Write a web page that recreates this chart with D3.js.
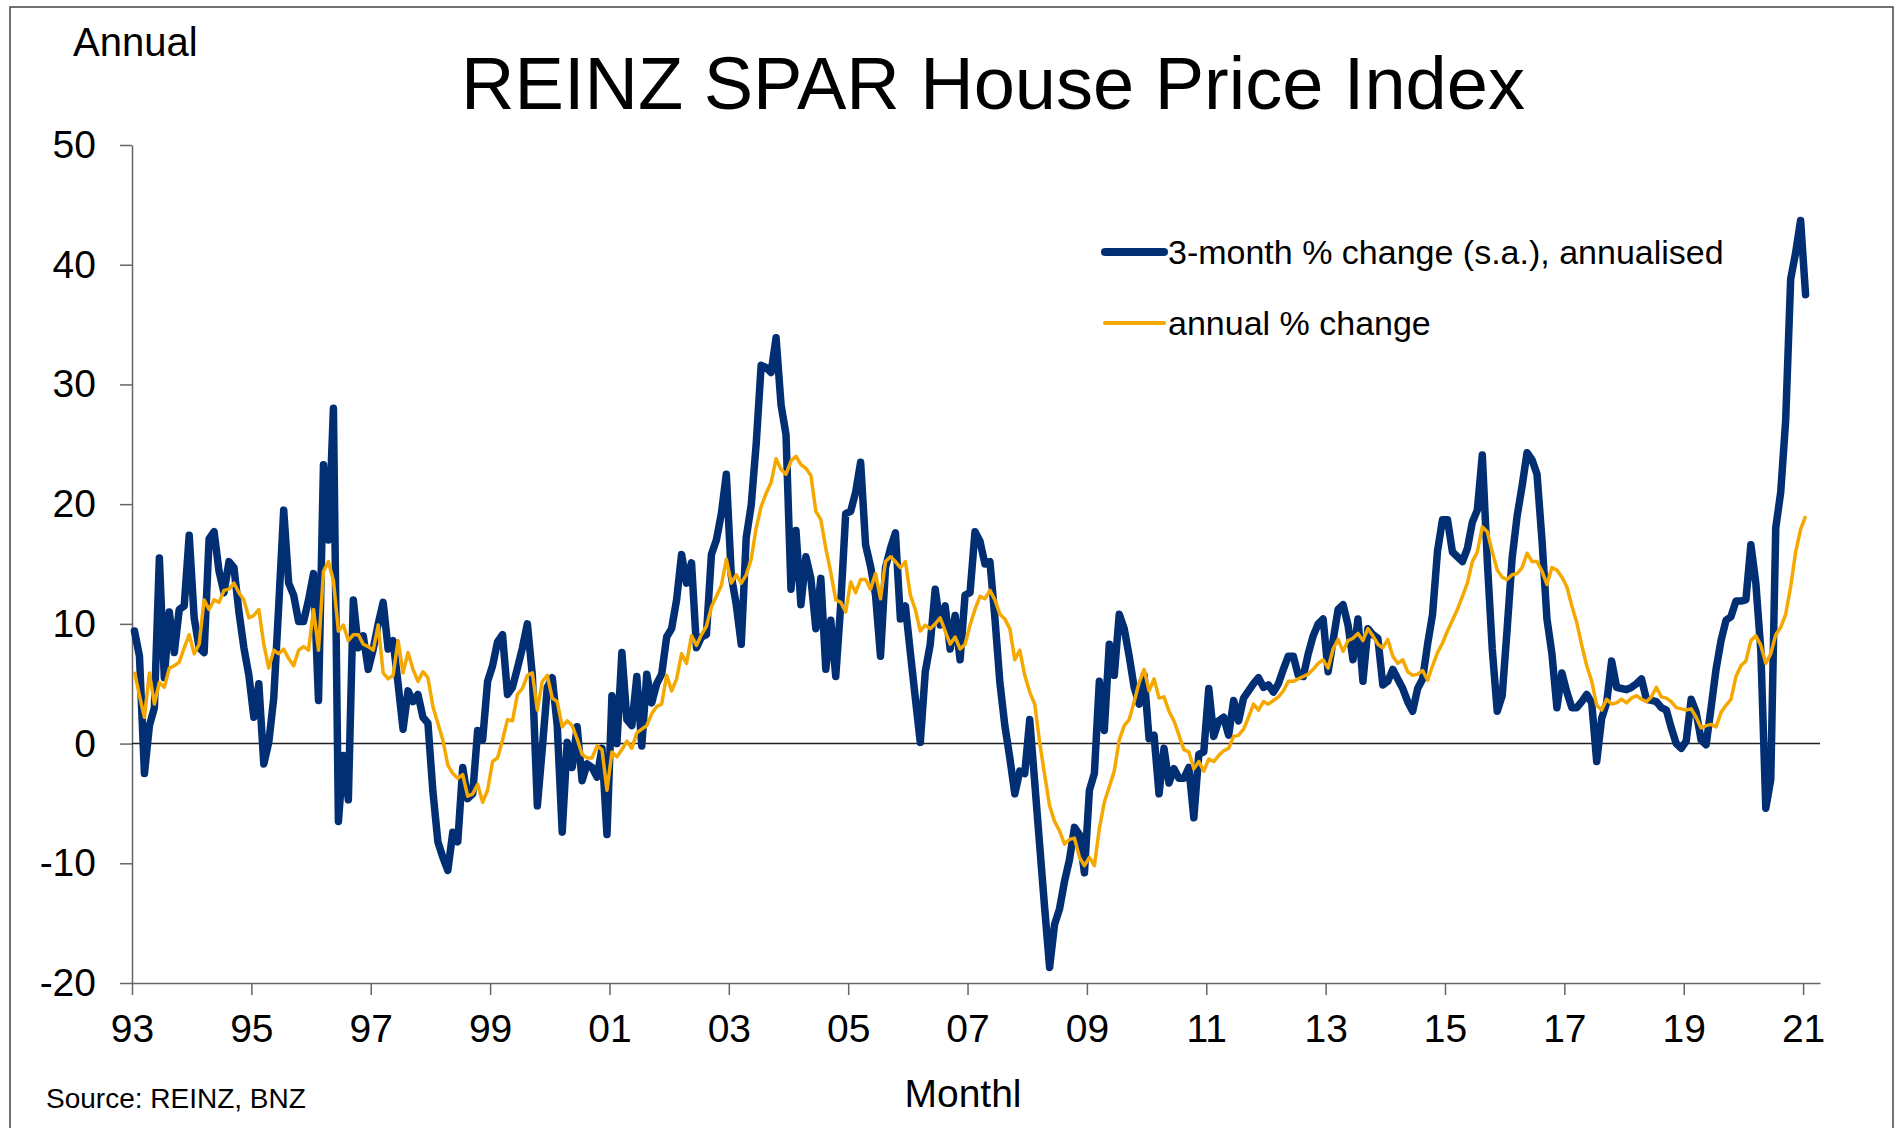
<!DOCTYPE html>
<html lang="en">
<head>
    <meta charset="UTF-8">
    <title>REINZ SPAR House Price Index</title>
    <script src="https://d3js.org/d3.v7.min.js"></script>
    <style>
        body {
            margin: 0;
            background: #fff;
            font-family: "Liberation Sans", Arial, sans-serif;
        }
        .axis path, .axis line {
            stroke: #666;
            stroke-width: 1.5px;
        }
        .axis text {
            font-family: "Liberation Sans", Arial, sans-serif;
            font-size: 39px;
            fill: #000;
        }
    </style>
</head>
<body>
    <div id="chart"></div>

    <script>
        // tick labels on the x axis, one every two years
        const tickLabels = ["93", "95", "97", "99", "01", "03", "05", "07", "09", "11", "13", "15", "17", "19", "21"];

        // monthly, Jan 1993 .. Jan 2021
        const threeMonth = [
            9.4, 7.3, -2.5, 1.5, 3, 15.5, 5.5, 11, 7.6, 11.2, 11.5, 17.4,
            10.5, 8, 7.6, 17.1, 17.7, 14.4, 12.6, 15.2, 14.7, 11, 8, 5.7,
            2.2, 5, -1.7, 0.1, 3.8, 11.5, 19.5, 13.4, 12.4, 10.2, 10.2, 12,
            14.2, 3.6, 23.3, 17, 28, -6.5, -1, -4.7, 12, 8, 9, 6.2,
            7.9, 10, 11.8, 7.9, 8.6, 5, 1.2, 4.4, 3.5, 4.1, 2.2, 1.7,
            -4, -8.2, -9.5, -10.6, -7.4, -8.2, -2, -4.6, -4.2, 1.1, 0.3, 5.2,
            6.5, 8.5, 9.1, 4.1, 4.7, 6.3, 8, 10, 5.7, -5.2, -0.4, 4.7,
            5.5, 1.5, -7.4, 0.1, -2, 1.4, -3.1, -1.7, -2, -2.8, -0.4, -7.6,
            4, 0, 7.6, 2, 1.5, 5.6, -0.2, 5.8, 3.4, 5, 5.8, 8.9,
            9.6, 12, 15.8, 13.4, 15.1, 8, 8.9, 9.1, 15.8, 17, 19.2, 22.5,
            14, 11.6, 8.3, 17.2, 19.9, 25, 31.6, 31.4, 31, 33.9, 28.3, 25.8,
            12.9, 17.8, 11.6, 15.6, 13.8, 9.6, 13.8, 6.2, 10.3, 5.6, 11.6, 19.2,
            19.4, 21, 23.5, 16.6, 14.8, 12.4, 7.3, 14.7, 16.3, 17.6, 10.4, 11.5,
            7.6, 3.8, 0.1, 6, 8.3, 12.9, 9.9, 11.5, 7.9, 10.7, 7, 12.4,
            12.6, 17.7, 16.9, 15, 15.2, 10.5, 5.1, 1.5, -1.2, -4.2, -2.3, -2.5,
            2, -3.2, -8.5, -13.7, -18.7, -15.1, -13.8, -11.5, -9.7, -7, -7.6, -10.8,
            -3.9, -2.5, 5.2, 1.1, 8.3, 5.7, 10.8, 9.6, 7.3, 4.7, 3.3, 5.7,
            0.4, 0.7, -4.2, -0.4, -3.3, -2.1, -2.9, -2.9, -2, -6.2, -0.9, -0.7,
            4.6, 0.6, 1.9, 2.2, 0.7, 3.6, 1.9, 3.8, 4.4, 5, 5.5, 4.7,
            4.9, 4.3, 5, 6.2, 7.3, 7.3, 5.7, 5.6, 7.5, 9, 10, 10.4,
            6, 8.6, 11.2, 11.6, 9.9, 7, 10.4, 5.2, 9.6, 9.1, 8.8, 4.9,
            5.2, 6.2, 5.4, 4.6, 3.5, 2.7, 4.6, 5.4, 8.3, 10.8, 16.1, 18.7,
            18.7, 16, 15.6, 15.2, 16.3, 18.5, 19.5, 24.1, 15.3, 7.9, 2.7, 4,
            9.6, 15.5, 19, 21.5, 24.3, 23.7, 22.5, 17, 10.4, 7.5, 3, 5.9,
            4.3, 3, 3, 3.5, 4.1, 3.4, -1.5, 2.1, 3.4, 6.9, 4.7, 4.6,
            4.5, 4.7, 5, 5.4, 3.7, 3.6, 3.5, 3, 2.8, 1.3, 0, -0.4,
            0.2, 3.7, 2.6, 0.3, -0.1, 3, 6.2, 8.6, 10.3, 10.6, 11.9, 11.9,
            12, 16.6, 13.4, 7.8, -5.4, -3, 18, 21, 27, 38.8, 41, 43.7,
            37.5
        ];

        const annual = [
            6, 4, 2.2, 5.9, 3.3, 5.1, 4.7, 6.3, 6.5, 6.8, 8, 9.1,
            7.5, 8.3, 12, 11.2, 12, 11.8, 12.8, 12.9, 13.4, 12.6, 12, 10.5,
            10.7, 11.2, 8.3, 6.3, 7.8, 7.5, 7.9, 7.1, 6.5, 7.8, 8.1, 7.8,
            11.2, 7.8, 14.4, 15.2, 13.6, 9.4, 9.9, 8.6, 9.1, 9.1, 8.3, 8.1,
            7.8, 9.9, 5.9, 5.4, 5.7, 8.6, 5.9, 7.6, 6.2, 5.2, 6, 5.5,
            3.1, 1.7, 0.3, -1.8, -2.5, -2.9, -2.6, -4.4, -4.2, -3.4, -4.9, -3.9,
            -1.5, -1.2, 0.3, 2, 1.9, 4.1, 4.6, 5.7, 5.9, 2.8, 5.2, 5.7,
            3.8, 3.5, 1.4, 1.9, 1.5, 0.4, -0.9, -1.2, -1.2, -0.2, -0.5, -3.9,
            -0.7, -1.1, -0.5, 0.2, -0.4, 0.9, 1.2, 1.5, 2.5, 3.1, 3.3, 5.7,
            4.4, 5.4, 7.5, 6.7, 9, 8.2, 9.1, 9.8, 11.4, 12.3, 13.2, 15.4,
            13.4, 14.1, 13.4, 14.1, 15.4, 18, 19.8, 20.9, 21.8, 23.8, 22.9, 22.5,
            23.6, 24, 23.3, 23, 22.4, 19.4, 18.7, 16.3, 14.3, 12, 11.8, 11,
            13.5, 12.6, 13.7, 13.7, 12.9, 14.2, 12.1, 15.2, 15.6, 15.2, 14.7, 15.2,
            12.4, 11.2, 9.4, 9.9, 9.6, 10, 10.5, 9.4, 8.3, 8.9, 7.9, 8.3,
            9.9, 11.2, 12.3, 12.1, 12.8, 12, 10.8, 10.4, 9.6, 7, 7.8, 5.7,
            4.3, 3.3, 0.1, -2.6, -5.2, -6.5, -7.3, -8.4, -8, -7.9, -9.5, -10.2,
            -9.5, -10.2, -7.1, -4.9, -3.6, -2.3, 0.3, 1.5, 2, 3.5, 5.1, 6.2,
            4.4, 5.4, 3.8, 3.9, 2.7, 1.9, 0.7, -0.5, -0.7, -2.1, -1.5, -2.3,
            -1.3, -1.5, -1, -0.6, -0.4, 0.6, 0.7, 1.2, 2.2, 3.3, 2.8, 3.5,
            3.3, 3.6, 3.9, 4.4, 5.2, 5.2, 5.4, 5.6, 5.8, 6.2, 6.7, 7,
            6.3, 7.9, 8.7, 7.7, 8.6, 8.8, 9.2, 8.6, 9.6, 9, 8.3, 8,
            8.7, 7.3, 6.7, 7, 6, 5.7, 5.8, 6.1, 5.3, 6.5, 7.6, 8.4,
            9.4, 10.3, 11.2, 12.3, 13.4, 15.2, 16, 18.1, 17.7, 16, 14.5, 13.9,
            13.7, 14.1, 14.2, 14.7, 15.9, 15.2, 15.2, 14.4, 13.3, 14.7, 14.5, 13.9,
            13.1, 11.5, 10.1, 8.2, 6.5, 5.2, 3.2, 2.8, 3.7, 3.3, 3.4, 3.7,
            3.4, 3.8, 4, 3.7, 3.5, 3.9, 4.7, 3.9, 3.8, 3.5, 3, 2.9,
            2.8, 2.9, 2.2, 1.3, 1.5, 1.6, 1.4, 2.6, 3.2, 3.7, 5.6, 6.5,
            6.9, 8.6, 9, 8.2, 6.7, 7.5, 9.1, 9.7, 10.8, 13.1, 16, 17.9,
            19
        ];

        const width = 1897;
        const height = 1128;
        const plotLeft = 132, plotRight = 1820, plotTop = 145, plotBottom = 983;

        const svg = d3.select("#chart")
            .append("svg")
            .attr("width", width)
            .attr("height", height)
            .style("display", "block");

        // outer frame
        svg.append("rect")
            .attr("x", 10).attr("y", 7)
            .attr("width", 1883).attr("height", 1300)
            .attr("fill", "none")
            .attr("stroke", "#444")
            .attr("stroke-width", 1.5);

        const x = d3.scaleLinear().domain([0, 339.4]).range([plotLeft, plotRight]);
        const y = d3.scaleLinear().domain([-20, 50]).range([plotBottom, plotTop]);

        // y axis (plain hyphen for negatives, like the original)
        svg.append("g")
            .attr("class", "axis")
            .attr("transform", `translate(${plotLeft},0)`)
            .call(d3.axisLeft(y)
                .tickValues(d3.range(-20, 51, 10))
                .tickFormat(d => String(d))
                .tickSize(12)
                .tickSizeOuter(0)
                .tickPadding(24));

        // x axis
        svg.append("g")
            .attr("class", "axis")
            .attr("transform", `translate(0,${plotBottom})`)
            .call(d3.axisBottom(x)
                .tickValues(tickLabels.map((d, i) => i * 24))
                .tickFormat((d, i) => tickLabels[i])
                .tickSize(12)
                .tickSizeOuter(0)
                .tickPadding(19));

        // zero line
        svg.append("line")
            .attr("x1", plotLeft).attr("x2", plotRight)
            .attr("y1", y(0)).attr("y2", y(0))
            .attr("stroke", "#222")
            .attr("stroke-width", 1.5);

        const line = d3.line()
            .x((d, i) => x(i + 0.5))
            .y(d => y(d));

        svg.append("path")
            .datum(threeMonth)
            .attr("d", line)
            .attr("fill", "none")
            .attr("stroke", "#022f74")
            .attr("stroke-width", 7.5)
            .attr("stroke-linejoin", "round")
            .attr("stroke-linecap", "round");

        svg.append("path")
            .datum(annual)
            .attr("d", line)
            .attr("fill", "none")
            .attr("stroke", "#f5a800")
            .attr("stroke-width", 3.5)
            .attr("stroke-linejoin", "round");

        // legend
        const legend = [
            {name: "3-month % change (s.a.), annualised", color: "#022f74", w: 8, y: 252},
            {name: "annual % change", color: "#f5a800", w: 4, y: 323}
        ];
        const lg = svg.selectAll(".legend")
            .data(legend)
            .enter()
            .append("g")
            .attr("class", "legend");
        lg.append("line")
            .attr("x1", 1105).attr("x2", 1164)
            .attr("y1", d => d.y).attr("y2", d => d.y)
            .attr("stroke", d => d.color)
            .attr("stroke-width", d => d.w)
            .attr("stroke-linecap", "round");
        lg.append("text")
            .attr("x", 1168)
            .attr("y", d => d.y + 12)
            .attr("font-size", 34)
            .text(d => d.name);

        // titles and notes
        svg.append("text")
            .attr("x", 993).attr("y", 109)
            .attr("text-anchor", "middle")
            .attr("font-size", 74)
            .text("REINZ SPAR House Price Index");

        svg.append("text")
            .attr("x", 73).attr("y", 56)
            .attr("font-size", 40)
            .text("Annual");

        svg.append("text")
            .attr("x", 963).attr("y", 1107)
            .attr("text-anchor", "middle")
            .attr("font-size", 39)
            .text("Monthl");

        svg.append("text")
            .attr("x", 46).attr("y", 1108)
            .attr("font-size", 28)
            .text("Source: REINZ, BNZ");
    </script>
</body>
</html>
